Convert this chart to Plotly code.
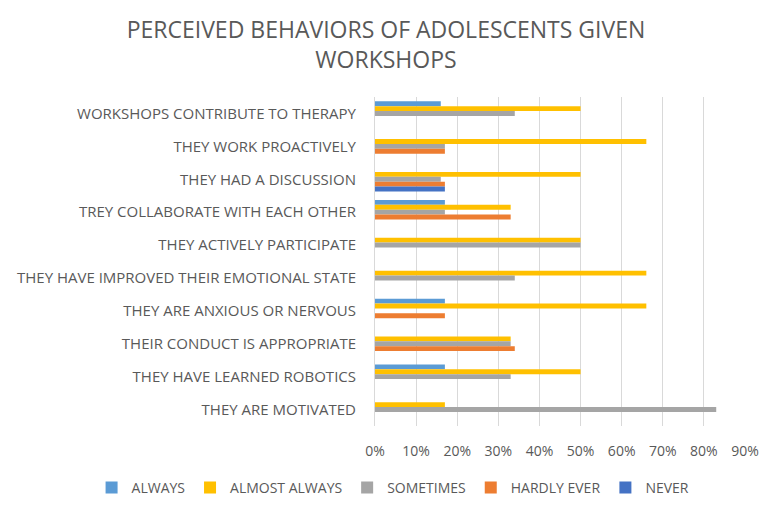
import plotly.graph_objects as go

categories = [
    "WORKSHOPS CONTRIBUTE TO THERAPY",
    "THEY WORK PROACTIVELY",
    "THEY HAD A DISCUSSION",
    "TREY COLLABORATE WITH EACH OTHER",
    "THEY ACTIVELY PARTICIPATE",
    "THEY HAVE IMPROVED THEIR EMOTIONAL STATE",
    "THEY ARE ANXIOUS OR NERVOUS",
    "THEIR CONDUCT IS APPROPRIATE",
    "THEY HAVE LEARNED ROBOTICS",
    "THEY ARE MOTIVATED",
]
always = [0.16, 0.0, 0.0, 0.17, 0.0, 0.0, 0.17, 0.0, 0.17, 0.0]
almost_always = [0.50, 0.66, 0.50, 0.33, 0.50, 0.66, 0.66, 0.33, 0.50, 0.17]
sometimes = [0.34, 0.17, 0.16, 0.17, 0.50, 0.34, 0.0, 0.33, 0.33, 0.83]
hardly_ever = [0.0, 0.17, 0.17, 0.33, 0.0, 0.0, 0.17, 0.34, 0.0, 0.0]
never = [0.0, 0.0, 0.17, 0.0, 0.0, 0.0, 0.0, 0.0, 0.0, 0.0]

series = [
    ("ALWAYS", always, "#5B9BD5"),
    ("ALMOST ALWAYS", almost_always, "#FFC000"),
    ("SOMETIMES", sometimes, "#A5A5A5"),
    ("HARDLY EVER", hardly_ever, "#ED7D31"),
    ("NEVER", never, "#4472C4"),
]
xticks = [0, 0.1, 0.2, 0.3, 0.4, 0.5, 0.6, 0.7, 0.8, 0.9]

fig = go.Figure()
for name, vals, color in series:
    fig.add_trace(go.Bar(y=categories, x=vals, name=name, orientation="h",
                         marker=dict(color=color, line=dict(width=0))))

font_family = "Open Sans, sans-serif"
fig.update_layout(
    width=772, height=510,
    paper_bgcolor="white", plot_bgcolor="white",
    margin=dict(l=375, r=27, t=97, b=84, autoexpand=False),
    barmode="group", bargap=0.26, bargroupgap=0,
    font=dict(family=font_family, color="#595959", size=15),
    title=dict(text="PERCEIVED BEHAVIORS OF ADOLESCENTS GIVEN<br>WORKSHOPS",
               x=0.5, xanchor="center", xref="container",
               y=0.926, yanchor="top", yref="container",
               font=dict(size=23, color="#595959", family=font_family)),
    xaxis=dict(range=[0, 0.9], tickvals=xticks, tickformat=".0%",
               showgrid=True, gridcolor="#D9D9D9", gridwidth=1,
               zeroline=False, showline=False,
               ticks="outside", ticklen=12, tickcolor="rgba(0,0,0,0)",
               tickfont=dict(size=14, color="#595959")),
    yaxis=dict(autorange="reversed", showgrid=False, showline=True,
               linecolor="#D9D9D9",
               ticks="outside", ticklen=15, tickcolor="rgba(0,0,0,0)",
               tickfont=dict(size=15, color="#595959")),
    legend=dict(orientation="h", x=-0.766, xanchor="left", xref="paper",
                y=-0.188, yanchor="middle", yref="paper",
                traceorder="normal",
                font=dict(size=14, color="#595959")),
)
fig.write_html("out.html")
